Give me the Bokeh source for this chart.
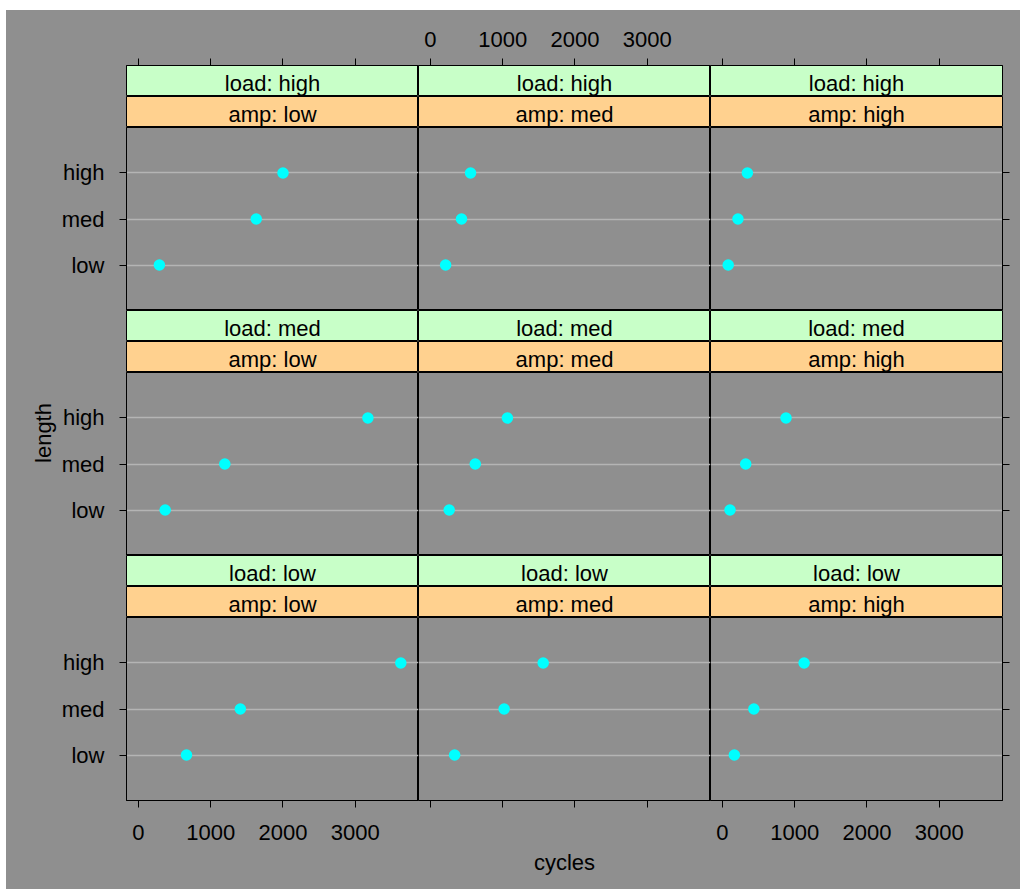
import math
from bokeh.plotting import figure
from bokeh.models import (Range1d, FactorRange, FixedTicker, LinearAxis, CategoricalAxis,
                          CategoricalTicker, Grid, GridBox, ColumnDataSource,
                          CustomJSTickFormatter)
from bokeh.embed import file_html
from bokeh.resources import INLINE
from bokeh.core.properties import value

# ---------------- data ----------------
length_levels = ["low", "med", "high"]
amp_levels = ["low", "med", "high"]          # columns, left -> right
load_levels = ["high", "med", "low"]         # rows, top -> bottom
x_ticks = [0, 1000, 2000, 3000]

# cycles for length low, med, high
cycles_loadhigh_amplow = [290, 1630, 2000]
cycles_loadhigh_ampmed = [210, 430, 555]
cycles_loadhigh_amphigh = [80, 215, 345]
cycles_loadmed_amplow = [370, 1195, 3175]
cycles_loadmed_ampmed = [260, 620, 1065]
cycles_loadmed_amphigh = [105, 322, 880]
cycles_loadlow_amplow = [665, 1410, 3630]
cycles_loadlow_ampmed = [335, 1020, 1560]
cycles_loadlow_amphigh = [165, 435, 1130]

cycles = {
    ("high", "low"): cycles_loadhigh_amplow,
    ("high", "med"): cycles_loadhigh_ampmed,
    ("high", "high"): cycles_loadhigh_amphigh,
    ("med", "low"): cycles_loadmed_amplow,
    ("med", "med"): cycles_loadmed_ampmed,
    ("med", "high"): cycles_loadmed_amphigh,
    ("low", "low"): cycles_loadlow_amplow,
    ("low", "med"): cycles_loadlow_ampmed,
    ("low", "high"): cycles_loadlow_amphigh,
}

# ---------------- style ----------------
GRAY = "#8f8f8f"
GREEN = "#c8ffc8"
ORANGE = "#ffd18f"
GRIDC = "#b4b4b4"
FONT = "Liberation Sans"
FS = "22px"
FRAME_W = 292
STRIP_H = 31
PANEL_H = 183
LEFT_B = 68
RIGHT_B = 18
TOP_B = 55
BOTTOM_B = 89
LABEL_W = 52

x_ranges = [Range1d(-165, 3875) for _ in range(3)]
y_range = FactorRange(factors=length_levels, range_padding=0.326)


def make_fig(col, h, x_range, y_range, top=0, bottom=0):
    left = LEFT_B if col == 0 else 0
    right = RIGHT_B if col == 2 else 0
    p = figure(width=FRAME_W + left + right, height=h + top + bottom,
               x_range=x_range, y_range=y_range,
               x_axis_type=None, y_axis_type=None,
               output_backend="svg", toolbar_location=None, title=None,
               min_border_left=left, min_border_right=right,
               min_border_top=top, min_border_bottom=bottom)
    p.background_fill_color = GRAY
    p.border_fill_color = GRAY
    p.outline_line_color = "black"
    p.outline_line_width = 1
    p.outline_line_alpha = 1
    return p


def style_axis(ax, labels=True, keys=None):
    ax.major_tick_out = 7
    ax.major_tick_in = 0
    ax.minor_tick_out = 0
    ax.minor_tick_in = 0
    ax.axis_line_color = "black"
    ax.major_tick_line_color = "black"
    ax.major_label_text_font = FONT
    ax.major_label_text_font_size = FS
    ax.major_label_text_color = "black"
    ax.axis_label_text_font = FONT
    ax.axis_label_text_font_size = FS
    ax.axis_label_text_font_style = "normal"
    ax.axis_label_text_color = "black"
    if not labels:
        ax.major_label_overrides = {k: "" for k in keys}


def strip_fig(col, text, color, top=0):
    p = make_fig(col, STRIP_H, x_ranges[col], Range1d(0, 1), top=top)
    p.background_fill_color = color
    p.extra_x_ranges = {"strip": Range1d(0, 1)}
    p.text(x=[0.5], y=[0.42], text=[text], x_range_name="strip",
           text_align="center", text_baseline="middle",
           text_font=value(FONT), text_font_size=FS, text_color="black")
    if top:
        ax = LinearAxis(ticker=FixedTicker(ticks=x_ticks))
        style_axis(ax, labels=(col == 1), keys=x_ticks)
        ax.major_label_standoff = 12
        p.add_layout(ax, "above")
    return p


def panel_fig(col, load, amp, bottom=0):
    p = make_fig(col, PANEL_H, x_ranges[col], y_range, bottom=bottom)
    p.add_layout(Grid(dimension=1, ticker=CategoricalTicker(),
                      grid_line_color=GRIDC, grid_line_width=1.3))
    src = ColumnDataSource(dict(length=length_levels, cycles=cycles[(load, amp)]))
    p.scatter("cycles", "length", source=src, size=11.5,
              fill_color="#00ffff", line_color=None)
    if col == 0:
        ax = CategoricalAxis()
        style_axis(ax)
        ax.major_label_standoff = 15
        p.add_layout(ax, "left")
    if col == 2:
        ax = CategoricalAxis(formatter=CustomJSTickFormatter(code="return ''"))
        style_axis(ax)
        p.add_layout(ax, "right")
    if bottom:
        ax = LinearAxis(ticker=FixedTicker(ticks=x_ticks))
        style_axis(ax, labels=(col != 1), keys=x_ticks)
        ax.major_label_standoff = 17
        if col == 1:
            ax.axis_label = "cycles"
            ax.axis_label_standoff = 42
        p.add_layout(ax, "below")
    return p


children = []
for r, load in enumerate(load_levels):
    base = r * 3
    for c, amp in enumerate(amp_levels):
        top = TOP_B if r == 0 else 0
        bottom = BOTTOM_B if r == 2 else 0
        children.append((strip_fig(c, f"load: {load}", GREEN, top=top), base, c + 1))
        children.append((strip_fig(c, f"amp: {amp}", ORANGE), base + 1, c + 1))
        children.append((panel_fig(c, load, amp, bottom=bottom), base + 2, c + 1))

total_h = TOP_B + 3 * (2 * STRIP_H + PANEL_H) + BOTTOM_B
lab = figure(width=LABEL_W, height=total_h, x_range=Range1d(0, 1), y_range=Range1d(0, 1),
             x_axis_type=None, y_axis_type=None, output_backend="svg",
             toolbar_location=None, title=None,
             min_border_left=0, min_border_right=0,
             min_border_top=TOP_B, min_border_bottom=BOTTOM_B)
lab.background_fill_color = GRAY
lab.border_fill_color = GRAY
lab.outline_line_color = None
lab.text(x=[0.71], y=[0.5], text=["length"], angle=math.pi / 2,
         text_align="center", text_baseline="middle",
         text_font=value(FONT), text_font_size=FS, text_color="black")
children.append((lab, 0, 0, 9, 1))

layout = GridBox(children=children, spacing=0, margin=(10, 0, 0, 6),
                 styles={"background-color": GRAY})

open("out.html", "w").write(file_html(layout, INLINE))
